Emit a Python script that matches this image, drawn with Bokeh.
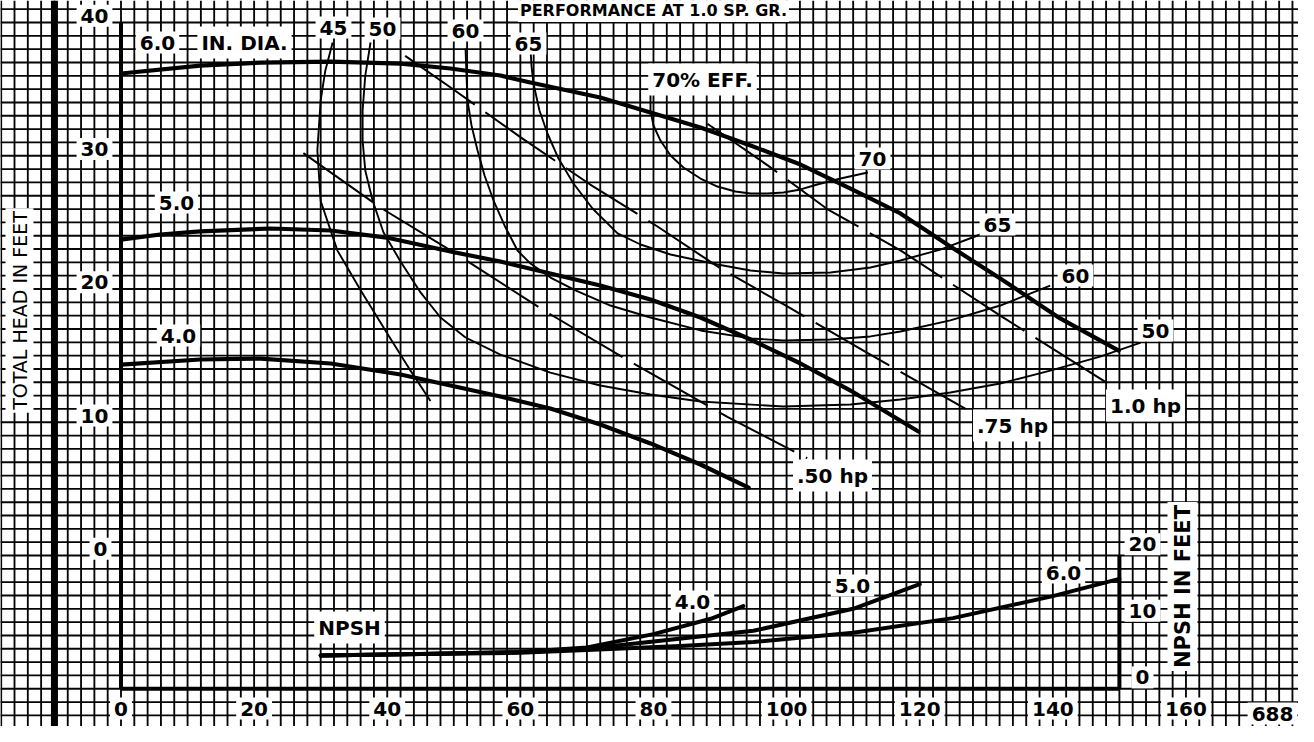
import numpy as np
from math import pi
from bokeh.plotting import figure
from bokeh.models import Range1d, Label
from bokeh.embed import file_html
from bokeh.resources import INLINE

# ---------------- data ----------------
# head-capacity curves (GPM, total head ft) per impeller diameter
q_dia60 = [0, 11.9, 21.0, 31.5, 42.0, 49.5, 57.0, 61.5, 72.0, 79.55, 87.06, 94.58, 102.09,
           109.6, 117.1, 124.6, 132.1, 141.1, 149.9]
h_dia60 = [36.17, 36.77, 36.99, 37.07, 36.92, 36.55, 36.02, 35.5, 34.37, 33.25, 32.12, 30.77,
           29.34, 27.54, 25.67, 23.19, 20.79, 17.79, 15.38]
q_dia50 = [0, 5.9, 11.9, 22.5, 31.5, 39.9, 49.5, 57.0, 64.5, 72.0, 79.55, 87.06, 94.58, 102.09,
           109.6, 119.8]
h_dia50 = [23.71, 24.09, 24.32, 24.54, 24.39, 23.86, 22.81, 22.06, 21.16, 20.26, 19.21, 17.86,
           16.21, 14.41, 12.38, 9.31]
q_dia40 = [0, 11.9, 21.0, 31.5, 42.0, 49.5, 57.0, 64.5, 72.0, 79.55, 87.06, 94.3]
h_dia40 = [14.33, 14.71, 14.78, 14.41, 13.58, 12.76, 11.93, 11.03, 9.83, 8.41, 6.83, 5.1]

# efficiency iso-curves
q_eff45 = [31.8, 30.7, 30.0, 29.5, 30.0, 32.5, 36.0, 39.7, 43.2, 46.5]
h_eff45 = [38.5, 36.4, 34.15, 30.4, 26.6, 22.9, 19.9, 16.9, 14.1, 11.6]
q_eff50 = [37.49, 36.7, 36.3, 36.3, 36.7, 37.8, 39.44, 42.0, 45.0, 48.0, 51.76, 57.0, 64.5, 72.0,
           79.55, 87.06, 99.53, 109.6, 117.1, 124.6, 132.1, 139.6, 147.1, 153.2]
h_eff50 = [38.5, 36.02, 33.4, 31.14, 28.89, 26.64, 24.24, 22.06, 19.74, 17.86, 16.36, 15.08,
           13.73, 12.76, 12.08, 11.56, 11.18, 11.33, 11.71, 12.23, 12.91, 13.88, 14.93, 15.98]
q_eff60 = [51.76, 51.91, 52.06, 52.66, 53.57, 54.62, 55.97, 57.62, 59.57, 61.52, 64.53, 68.28,
           73.53, 79.55, 87.06, 94.58, 99.53, 106.6, 112.6, 117.1, 124.6, 132.1, 139.6]
h_eff60 = [38.05, 36.02, 34.15, 32.27, 30.39, 28.52, 26.64, 24.77, 22.89, 21.91, 20.86, 19.89,
           18.76, 17.86, 16.89, 16.29, 16.14, 16.21, 16.44, 16.81, 17.64, 18.76, 20.26]
q_eff65 = [61.52, 61.67, 61.97, 62.87, 64.07, 65.73, 67.98, 70.84, 74.6, 78.05, 82.56, 89.62,
           94.58, 99.53, 106.6, 112.6, 117.1, 123.1, 129.1]
h_eff65 = [38.05, 36.77, 35.42, 33.4, 31.67, 29.79, 27.92, 26.04, 24.17, 23.34, 22.59, 21.84,
           21.39, 21.16, 21.24, 21.61, 22.14, 22.96, 24.09]
q_eff70 = [79.55, 79.55, 80.0, 81.05, 82.56, 84.5, 87.06, 89.6, 92.3, 94.58, 97.1, 99.53,
           102.1, 104.6, 108.1, 112.2]
h_eff70 = [34.67, 33.4, 32.27, 31.14, 30.02, 29.12, 28.29, 27.69, 27.32, 27.17, 27.17, 27.24,
           27.47, 27.84, 28.29, 28.74]

# horsepower lines
q_hp050 = [27.4, 39.0, 49.5, 63.5, 76.3, 91.1, 103.1]
h_hp050 = [30.2, 26.1, 22.9, 18.4, 14.6, 10.4, 7.3]
q_hp075 = [42.7, 49.95, 60.0, 70.5, 80.6, 90.07, 100.1, 111.8, 126.9]
h_hp075 = [37.5, 34.97, 31.4, 27.84, 24.69, 21.54, 18.69, 15.3, 11.0]
q_hp100 = [88.1, 97.1, 106.1, 117.1, 132.1, 149.9]
h_hp100 = [32.4, 29.3, 26.0, 22.9, 18.0, 12.4]

# NPSH required (ft)
q_npsh40 = [30, 45, 60, 70, 80, 88.6, 93.5]
n_npsh40 = [5.0, 5.2, 5.5, 6.2, 8.2, 10.5, 12.4]
q_npsh50 = [30, 45, 60, 70, 80, 95, 110, 120]
n_npsh50 = [5.0, 5.2, 5.5, 6.0, 7.1, 8.7, 12.0, 15.7]
q_npsh60 = [30, 45, 60, 70, 84, 95, 110, 125, 140, 150]
n_npsh60 = [5.0, 5.2, 5.4, 5.8, 6.4, 7.0, 8.4, 10.6, 13.9, 16.5]

# tick labels
gpm_ticks = [0, 20, 40, 60, 80, 100, 120, 140, 160]
head_ticks = [0, 10, 20, 30, 40]
npsh_ticks = [0, 10, 20]

# ---------------- layout helpers (pixel -> data) ----------------
X0, SX = 120.5, 6.656     # px of 0 GPM, px per GPM
Y0, SY = 555.0, 13.325    # px of 0 ft head, px per ft


def gx(X):
    return (X - X0) / SX


def hy(Y):
    return (Y0 - Y) / SY


W, H = 1298, 726
x_lo, x_hi = gx(0), gx(W)
y_lo, y_hi = hy(H), hy(0)

p = figure(width=W, height=H, output_backend="svg", toolbar_location=None,
           x_range=Range1d(x_lo, x_hi), y_range=Range1d(y_lo, y_hi),
           x_axis_location=None, y_axis_location=None, min_border=0)
p.grid.visible = False
p.outline_line_color = None
p.background_fill_color = "white"
p.border_fill_color = "white"
# NPSH scale: 0 ft sits on the capacity axis (head -10), 20 ft at head 0
p.extra_y_ranges = {"npsh": Range1d((y_lo + 10) * 2, (y_hi + 10) * 2)}

INK = "#050505"

# graph-paper grid
vx = np.arange(-18, 180, 2)
p.segment(x0=vx, y0=[y_lo] * len(vx), x1=vx, y1=[y_hi] * len(vx),
          line_color=INK, line_width=1.85)
hh = np.arange(-13, 43, 1)
p.segment(x0=[x_lo] * len(hh), y0=hh, x1=[x_hi] * len(hh), y1=hh,
          line_color=INK, line_width=1.85)

# heavy binding bar
p.segment(x0=[-10], y0=[y_lo], x1=[-10], y1=[y_hi], line_color="black", line_width=7)

# frame axes
p.line([0, 0], [-10, head_ticks[-1]], line_color="black", line_width=4)
p.line([0, 150], [-10, -10], line_color="black", line_width=4)
p.line([150, 150], [npsh_ticks[0], npsh_ticks[-1]], y_range_name="npsh",
       line_color="black", line_width=4)

# head curves
for q, h in [(q_dia60, h_dia60), (q_dia50, h_dia50), (q_dia40, h_dia40)]:
    p.line(q, h, line_color="black", line_width=4.2, line_cap="round", line_join="round")

# efficiency curves
for q, h in [(q_eff45, h_eff45), (q_eff50, h_eff50), (q_eff60, h_eff60),
             (q_eff65, h_eff65), (q_eff70, h_eff70)]:
    p.line(q, h, line_color="black", line_width=1.9, line_join="round")

# horsepower lines
for q, h in [(q_hp050, h_hp050), (q_hp075, h_hp075), (q_hp100, h_hp100)]:
    p.line(q, h, line_color="black", line_width=2, line_dash="85 13", line_join="round")

# NPSH curves
for q, n in [(q_npsh60, n_npsh60), (q_npsh50, n_npsh50), (q_npsh40, n_npsh40)]:
    p.line(q, n, y_range_name="npsh", line_color="black", line_width=4,
           line_cap="round", line_join="round")

FONT = "DejaVu Sans"


def lab(text, x, y, size=20, bold=True, angle=0.0, yr="default", pad=4):
    p.add_layout(Label(x=x, y=y, text=text, y_range_name=yr,
                       text_font=FONT, text_font_size=f"{size}px",
                       text_font_style="bold" if bold else "normal",
                       text_color="black", text_align="center", text_baseline="middle",
                       angle=angle, background_fill_color="white",
                       background_fill_alpha=1.0, padding=pad))


# tick labels
for t in head_ticks:
    lab(str(t), gx(94) if t else gx(100), t + 0.5, size=20)
for t in gpm_ticks:
    lab(str(t), t, hy(708), size=20)
for t in npsh_ticks:
    lab(str(t), gx(1142), t + 1.7, size=20, yr="npsh")

# axis titles
lab("TOTAL HEAD IN FEET", gx(19), hy(310), size=19, bold=False, angle=pi / 2, pad=3)
lab("NPSH IN FEET", gx(1182), hy(586), size=21, angle=pi / 2, pad=3)
lab("PERFORMANCE AT 1.0 SP. GR.", gx(653), hy(10), size=16, pad=2)

# curve annotations (pixel positions from the reference)
annotations = [
    ("6.0", 157, 42), ("IN. DIA.", 244, 42), ("5.0", 176, 202), ("4.0", 178, 335),
    ("45", 333, 27), ("50", 382, 28), ("60", 465, 30), ("65", 528, 43),
    ("70% EFF.", 702, 79), ("70", 872, 158), ("65", 997, 224), ("60", 1075, 275),
    ("50", 1155, 330), (".50 hp", 832, 475), (".75 hp", 1012, 425), ("1.0 hp", 1145, 405),
    ("NPSH", 349, 627), ("4.0", 692, 601), ("5.0", 852, 585), ("6.0", 1063, 572),
    ("688", 1272, 713),
]
for t, X, Y in annotations:
    lab(t, gx(X), hy(Y), size=20)

open("out.html", "w").write(file_html(p, INLINE))
